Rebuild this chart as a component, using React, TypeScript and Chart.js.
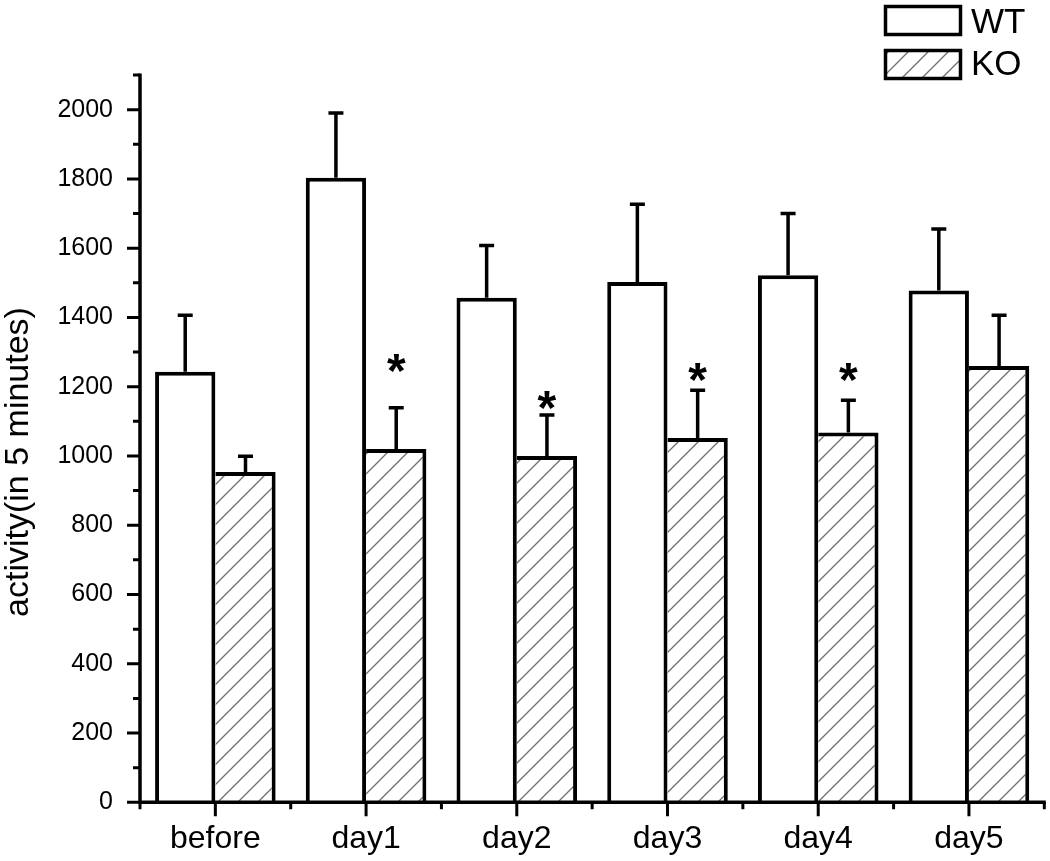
import React, { useEffect, useRef } from "react";
import { Chart, registerables } from "chart.js";

Chart.register(...registerables);

// ---- data ----
const categories = ["before", "day1", "day2", "day3", "day4", "day5"];
const seriesNames = ["WT", "KO"];
const wtMeans = [1243, 1803, 1457, 1502, 1522, 1478];
const wtErrors = [163, 187, 151, 225, 178, 177];
const koMeans = [954, 1020, 1000, 1052, 1068, 1260];
const koErrors = [45, 119, 118, 138, 93, 146];
const starValues: (number | null)[] = [null, 1268, 1163, 1243, 1243, null];
const yMajorTicks = [0, 200, 400, 600, 800, 1000, 1200, 1400, 1600, 1800, 2000];
const yMinorTicks = [100, 300, 500, 700, 900, 1100, 1300, 1500, 1700, 1900, 2100];
const yMin = 0;
const yMax = 2100;
const yTitle = "activity(in 5 minutes)";

const FONT = "'Liberation Sans', Arial, Helvetica, sans-serif";

function makeHatch(): CanvasPattern | string {
  const c = document.createElement("canvas");
  c.width = 20;
  c.height = 20;
  const g = c.getContext("2d");
  if (!g) return "#fff";
  g.fillStyle = "#ffffff";
  g.fillRect(0, 0, 20, 20);
  g.strokeStyle = "#6e6e6e";
  g.lineWidth = 1.3;
  g.beginPath();
  g.moveTo(-2, 22);
  g.lineTo(22, -2);
  g.moveTo(-2, 2);
  g.lineTo(2, -2);
  g.moveTo(18, 22);
  g.lineTo(22, 18);
  g.stroke();
  return g.createPattern(c, "repeat") || "#fff";
}

export default function App() {
  const ref = useRef<HTMLCanvasElement | null>(null);

  useEffect(() => {
    const canvas = ref.current;
    if (!canvas) return;
    const hatch = makeHatch();

    const overlay = {
      id: "overlay",
      afterDatasetsDraw(chart: any) {
        const ctx: CanvasRenderingContext2D = chart.ctx;
        const xs = chart.scales.x;
        const ys = chart.scales.y;
        const area = chart.chartArea;
        ctx.save();
        ctx.strokeStyle = "#000";
        ctx.fillStyle = "#000";
        ctx.lineCap = "butt";

        // error bars (upper only)
        ctx.lineWidth = 3.5;
        const errs = [wtErrors, koErrors];
        const means = [wtMeans, koMeans];
        for (let d = 0; d < 2; d++) {
          const meta = chart.getDatasetMeta(d);
          meta.data.forEach((bar: any, i: number) => {
            const x = bar.x;
            const yBar = ys.getPixelForValue(means[d][i]);
            const yTop = ys.getPixelForValue(means[d][i] + errs[d][i]);
            ctx.beginPath();
            ctx.moveTo(x, yBar);
            ctx.lineTo(x, yTop);
            ctx.moveTo(x - 7.5, yTop);
            ctx.lineTo(x + 7.5, yTop);
            ctx.stroke();
          });
        }

        // significance stars
        ctx.font = `bold 48px ${FONT}`;
        ctx.textAlign = "center";
        ctx.textBaseline = "alphabetic";
        const m = ctx.measureText("*");
        const off = (m.actualBoundingBoxAscent - m.actualBoundingBoxDescent) / 2;
        const koMeta = chart.getDatasetMeta(1);
        starValues.forEach((v, i) => {
          if (v == null) return;
          const x = koMeta.data[i].x;
          const cy = ys.getPixelForValue(v);
          ctx.fillText("*", x, cy + off);
        });

        // axes
        ctx.lineWidth = 3.5;
        const ax = area.left;
        const ay = area.bottom;
        const yTopPix = ys.getPixelForValue(yMax);
        ctx.beginPath();
        ctx.moveTo(ax, yTopPix - 1.5);
        ctx.lineTo(ax, ay);
        ctx.moveTo(ax - 1.75, ay);
        ctx.lineTo(area.right + 1.5, ay);
        ctx.stroke();

        // y ticks
        ctx.lineWidth = 3;
        ctx.beginPath();
        yMajorTicks.forEach((v) => {
          const y = ys.getPixelForValue(v);
          ctx.moveTo(ax, y);
          ctx.lineTo(ax - 13, y);
        });
        yMinorTicks.forEach((v) => {
          const y = ys.getPixelForValue(v);
          ctx.moveTo(ax, y);
          ctx.lineTo(ax - 7, y);
        });
        ctx.stroke();

        // x ticks
        const step = xs.getPixelForValue(1) - xs.getPixelForValue(0);
        ctx.beginPath();
        categories.forEach((_, i) => {
          const cx = xs.getPixelForValue(i);
          ctx.moveTo(cx, ay);
          ctx.lineTo(cx, ay + 14);
        });
        for (let i = 0; i <= categories.length; i++) {
          const bx = xs.getPixelForValue(0) - step / 2 + i * step;
          ctx.moveTo(bx, ay);
          ctx.lineTo(bx, ay + 7);
        }
        ctx.stroke();

        // y title
        ctx.save();
        ctx.translate(28, 462);
        ctx.rotate(-Math.PI / 2);
        ctx.font = `34px ${FONT}`;
        ctx.textAlign = "center";
        ctx.textBaseline = "alphabetic";
        ctx.fillStyle = "#000";
        ctx.fillText(yTitle, 0, 0);
        ctx.restore();

        // legend
        const boxes = [
          { y: 6.5, fill: "#fff", baseline: 33 },
          { y: 50.5, fill: hatch, baseline: 75 },
        ];
        boxes.forEach((b, i) => {
          ctx.fillStyle = b.fill as any;
          ctx.fillRect(885.5, b.y, 75, 28);
          ctx.strokeStyle = "#000";
          ctx.lineWidth = 3.5;
          ctx.strokeRect(885.5, b.y, 75, 28);
          ctx.fillStyle = "#000";
          ctx.font = `35px ${FONT}`;
          ctx.textAlign = "left";
          ctx.textBaseline = "alphabetic";
          ctx.fillText(seriesNames[i], 971, b.baseline);
        });

        ctx.restore();
      },
    };

    const chart = new Chart(canvas, {
      type: "bar",
      data: {
        labels: categories,
        datasets: [
          {
            label: seriesNames[0],
            data: wtMeans,
            backgroundColor: "#ffffff",
            borderColor: "#000000",
            borderWidth: { top: 4, left: 4, right: 4, bottom: 0 } as any,
            borderSkipped: false,
            inflateAmount: 0,
            categoryPercentage: 0.8,
            barPercentage: 1.0,
          },
          {
            label: seriesNames[1],
            data: koMeans,
            backgroundColor: hatch as any,
            borderColor: "#000000",
            borderWidth: { top: 4, left: 0, right: 4, bottom: 0 } as any,
            borderSkipped: false,
            inflateAmount: 0,
            categoryPercentage: 0.8,
            barPercentage: 1.0,
          },
        ],
      },
      options: {
        animation: false,
        responsive: false,
        maintainAspectRatio: false,
        devicePixelRatio: 1,
        layout: { padding: { top: 75, right: 5.7, bottom: 0, left: 0 } },
        plugins: {
          legend: { display: false },
          tooltip: { enabled: false },
          title: { display: false },
        },
        scales: {
          x: {
            type: "category",
            offset: true,
            grid: { display: false, drawTicks: false },
            border: { display: false },
            ticks: {
              padding: 18,
              color: "#000",
              maxRotation: 0,
              font: { family: FONT, size: 32 },
            },
            afterFit: (s: any) => {
              s.height = 58.7;
            },
          },
          y: {
            min: yMin,
            max: yMax,
            grid: { display: false, drawTicks: false },
            border: { display: false },
            afterBuildTicks: (s: any) => {
              s.ticks = yMajorTicks.map((v) => ({ value: v }));
            },
            afterFit: (s: any) => {
              s.width = 140;
            },
            ticks: {
              padding: 27,
              color: "#000",
              font: { family: FONT, size: 25 },
              callback: (v: any) => String(v),
            },
          },
        },
      },
      plugins: [overlay],
    });

    return () => chart.destroy();
  }, []);

  return (
    <div style={{ position: "absolute", left: 0, top: 0, width: 1050, height: 861, background: "#fff" }}>
      <canvas ref={ref} width={1050} height={861} style={{ width: 1050, height: 861, display: "block" }} />
    </div>
  );
}
